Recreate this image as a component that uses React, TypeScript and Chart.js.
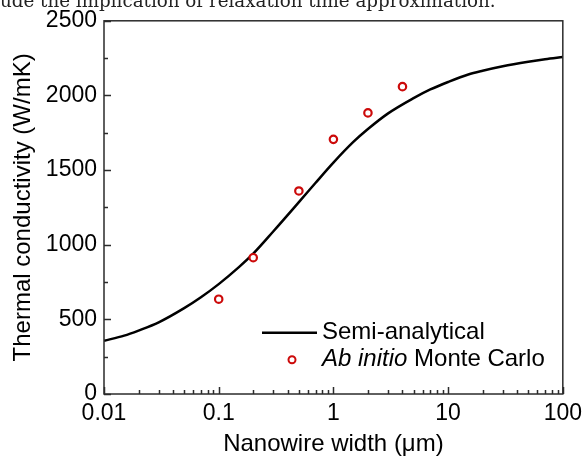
import React, { useEffect, useRef } from 'react';
import { Chart, registerables } from 'chart.js';

Chart.register(...registerables);

// Semi-analytical curve (nanowire width in µm, thermal conductivity in W/mK)
const curveWidths = [0.01, 0.015, 0.02, 0.03, 0.05, 0.07, 0.1, 0.15, 0.2, 0.3, 0.5, 0.7, 1, 1.5, 2, 3, 5, 7, 10, 15, 20, 30, 50, 70, 100];
const curveConductivity = [357, 391, 425, 480, 575, 648, 736, 850, 940, 1090, 1285, 1415, 1550, 1690, 1775, 1880, 1982, 2040, 2090, 2140, 2165, 2195, 2225, 2242, 2257];

// Ab initio Monte Carlo points
const mcWidths = [0.1, 0.2, 0.5, 1, 2, 4];
const mcConductivity = [635, 913, 1360, 1706, 1883, 2059];

const xTickValues = [0.01, 0.1, 1, 10, 100];
const xTickLabels = ['0.01', '0.1', '1', '10', '100'];
const yTickStep = 500;
const yMinorStep = 250;

const headerText = 'ude the implication of relaxation time approximation.';
const xTitle = 'Nanowire width (\u03bcm)';
const yTitle = 'Thermal conductivity (W/mK)';

const SANS = '"Liberation Sans", Arial, Helvetica, sans-serif';
const RED = '#cc0a0a';
const AXIS = '#2b2b2b';

const framePlugin = {
  id: 'frameAndLegend',
  afterDraw(chart: any) {
    const { ctx, chartArea: a, scales } = chart;
    const xs = scales.x;
    const ys = scales.y;
    ctx.save();
    ctx.strokeStyle = AXIS;
    ctx.lineWidth = 1.5;
    ctx.lineCap = 'butt';
    // x ticks (inward)
    ctx.beginPath();
    for (let e = -2; e <= 2; e++) {
      for (let m = 1; m < 10; m++) {
        const v = m * Math.pow(10, e);
        if (v > 100.0001) break;
        const px = Math.round(xs.getPixelForValue(v)) + 0.5;
        const len = m === 1 ? 7 : 4;
        ctx.moveTo(px, a.bottom);
        ctx.lineTo(px, a.bottom - len);
      }
    }
    // y ticks (inward)
    for (let v = 0; v <= 2500; v += yMinorStep) {
      const py = Math.round(ys.getPixelForValue(v)) + 0.5;
      const len = v % yTickStep === 0 ? 7 : 4;
      ctx.moveTo(a.left, py);
      ctx.lineTo(a.left + len, py);
    }
    ctx.stroke();
    // frame
    ctx.strokeRect(a.left, a.top, a.right - a.left, a.bottom - a.top);

    // legend
    const lx = a.left + 158;
    const ly1 = a.top + 312;
    const ly2 = a.top + 339;
    ctx.strokeStyle = '#000';
    ctx.lineWidth = 2.5;
    ctx.beginPath();
    ctx.moveTo(lx, ly1);
    ctx.lineTo(lx + 55, ly1);
    ctx.stroke();
    ctx.strokeStyle = RED;
    ctx.lineWidth = 2;
    ctx.fillStyle = '#fff';
    ctx.beginPath();
    ctx.arc(lx + 30, ly2, 3.5, 0, Math.PI * 2);
    ctx.fill();
    ctx.stroke();
    ctx.fillStyle = '#000';
    ctx.textBaseline = 'middle';
    ctx.textAlign = 'left';
    ctx.font = `24px ${SANS}`;
    ctx.fillText('Semi-analytical', lx + 60, ly1);
    ctx.font = `italic 24px ${SANS}`;
    const it = 'Ab initio';
    ctx.fillText(it, lx + 60, ly2);
    const w = ctx.measureText(it + ' ').width;
    ctx.font = `24px ${SANS}`;
    ctx.fillText('Monte Carlo', lx + 60 + w, ly2);

    // clipped caption line above the chart
    ctx.font = '18.3px "DejaVu Serif", serif';
    ctx.textBaseline = 'alphabetic';
    ctx.fillStyle = '#222';
    ctx.fillText(headerText, 0, 7);
    ctx.restore();
  },
};

export default function App() {
  const ref = useRef<HTMLCanvasElement | null>(null);
  useEffect(() => {
    if (!ref.current) return;
    const chart = new Chart(ref.current, {
      type: 'line',
      data: {
        datasets: [
          {
            label: 'Ab initio Monte Carlo',
            data: mcWidths.map((x, i) => ({ x, y: mcConductivity[i] })),
            showLine: false,
            pointRadius: 3.7,
            pointBorderWidth: 2.2,
            pointBorderColor: RED,
            pointBackgroundColor: '#fff',
            borderColor: RED,
            order: 0,
          },
          {
            label: 'Semi-analytical',
            data: curveWidths.map((x, i) => ({ x, y: curveConductivity[i] })),
            borderColor: '#000',
            borderWidth: 2.5,
            pointRadius: 0,
            cubicInterpolationMode: 'monotone',
            fill: false,
            order: 1,
          },
        ],
      },
      options: {
        animation: false,
        responsive: false,
        layout: { padding: { left: 0, right: 19, top: 16, bottom: 0 } },
        plugins: { legend: { display: false }, tooltip: { enabled: false } },
        scales: {
          x: {
            type: 'logarithmic',
            min: 0.01,
            max: 100,
            grid: { display: false, drawTicks: false },
            border: { display: false },
            afterBuildTicks: (s: any) => {
              s.ticks = xTickValues.map((v) => ({ value: v }));
            },
            afterFit: (s: any) => {
              s.height = 64;
            },
            ticks: {
              autoSkip: false,
              maxRotation: 0,
              padding: 6,
              color: '#000',
              font: { family: SANS, size: 23 },
              callback: (_v: any, i: number) => xTickLabels[i],
            },
            title: {
              display: true,
              text: xTitle,
              color: '#000',
              font: { family: SANS, size: 24, lineHeight: 1 },
              padding: { top: 0, bottom: 2 },
            },
          },
          y: {
            min: 0,
            max: 2500,
            grid: { display: false, drawTicks: false },
            border: { display: false },
            afterFit: (s: any) => {
              s.width = 104;
            },
            ticks: {
              stepSize: yTickStep,
              padding: 7,
              color: '#000',
              font: { family: SANS, size: 23 },
              callback: (v: any) => String(v),
            },
            title: {
              display: true,
              text: yTitle,
              color: '#000',
              font: { family: SANS, size: 24, lineHeight: 1.2 },
              padding: { top: 9, bottom: 0 },
            },
          },
        },
      },
      plugins: [framePlugin],
    } as any);
    return () => chart.destroy();
  }, []);
  return (
    <div style={{ position: 'fixed', left: 0, top: 0, width: 588, height: 458, background: '#fff' }}>
      <canvas ref={ref} width={588} height={458} style={{ display: 'block' }} />
    </div>
  );
}
